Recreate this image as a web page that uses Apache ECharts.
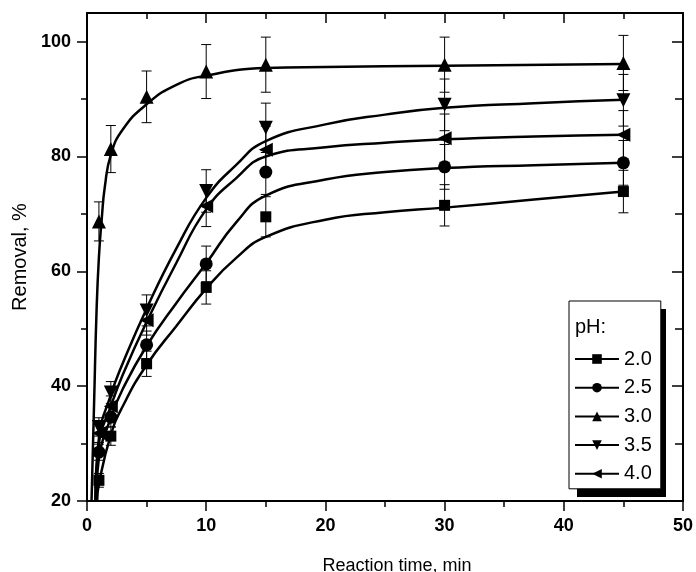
<!DOCTYPE html>
<html>
<head>
<meta charset="utf-8">
<script src="https://cdn.jsdelivr.net/npm/echarts@6/dist/echarts.min.js"></script>
<style>
  html, body { margin: 0; padding: 0; background: #fff; }
  #chart { width: 696px; height: 572px; }
</style>
</head>
<body>
<div id="chart"></div>
<script>
// Sampling times (min)
const times = [1, 2, 5, 10, 15, 30, 45];
const phLabels = ['2.0', '2.5', '3.0', '3.5', '4.0'];

// Measured removal (%) at each pH
const removalPH20 = [23.6, 31.3, 43.9, 57.2, 69.5, 71.5, 73.9];
const removalPH25 = [28.5, 34.6, 47.2, 61.3, 77.3, 78.2, 78.9];
const removalPH30 = [68.7, 81.3, 90.4, 94.8, 96.0, 96.0, 96.3];
const removalPH35 = [32.9, 38.9, 53.2, 74.0, 85.0, 89.0, 89.8];
const removalPH40 = [31.8, 36.5, 51.5, 71.4, 81.2, 83.2, 83.8];

// Error bar half-widths (%)
const errPH20 = [1.2, 1.6, 2.2, 2.9, 3.5, 3.6, 3.7];
const errPH25 = [1.4, 1.7, 2.4, 3.1, 3.9, 3.9, 3.9];
const errPH30 = [3.4, 4.1, 4.5, 4.7, 4.8, 4.8, 4.8];
const errPH35 = [1.6, 1.9, 2.7, 3.7, 4.3, 4.5, 4.5];
const errPH40 = [1.6, 1.8, 2.6, 3.6, 4.1, 4.2, 4.2];

// Kinetic fit curves: time (min) and removal (%)
const fitTimePH20 = [0.85, 1, 2, 3, 5, 7.5, 10, 12.5, 15, 20, 25, 30, 37.5, 45];
const fitPH20     = [20, 23, 31.5, 36.5, 43.7, 50.5, 57.0, 62.3, 66.0, 69.0, 70.3, 71.1, 72.5, 73.9];
const fitTimePH25 = [0.75, 1, 2, 3, 5, 7.5, 10, 12.5, 15, 20, 25, 30, 37.5, 45];
const fitPH25     = [20, 27.5, 34.5, 39.5, 47.0, 54.5, 61.4, 68.5, 73.2, 76.0, 77.3, 78.0, 78.5, 78.9];
const fitTimePH30 = [0.38, 0.6, 0.8, 1, 1.25, 1.5, 2, 3, 5, 7.5, 10, 15, 20, 30, 45];
const fitPH30     = [20, 37.5, 53, 62.5, 69.5, 74.8, 80.3, 84.7, 89.1, 92.5, 94.1, 95.4, 95.6, 95.8, 96.1];
const fitTimePH35 = [0.7, 1, 2, 3, 5, 7.5, 10, 12.5, 15, 20, 25, 30, 37.5, 45];
const fitPH35     = [20, 31, 38.5, 44, 53.5, 64, 72.8, 78.5, 82.7, 85.6, 87.3, 88.5, 89.3, 89.9];
const fitTimePH40 = [0.72, 1, 2, 3, 5, 7.5, 10, 12.5, 15, 20, 25, 30, 37.5, 45];
const fitPH40     = [20, 30, 36.5, 42, 51.2, 61.5, 70.8, 76.2, 80.0, 81.6, 82.4, 83.0, 83.5, 83.8];

// Axis ticks
const yMajorTicks = [20, 40, 60, 80, 100];
const yMinorTicks = [30, 50, 70, 90];

const removals = [removalPH20, removalPH25, removalPH30, removalPH35, removalPH40];
const errors = [errPH20, errPH25, errPH30, errPH35, errPH40];
const fitTimes = [fitTimePH20, fitTimePH25, fitTimePH30, fitTimePH35, fitTimePH40];
const fits = [fitPH20, fitPH25, fitPH30, fitPH35, fitPH40];

const symbols = ['rect', 'circle', 'triangle', 'triangle', 'triangle'];
const symbolSizes = [11, 13, 14, 14, 14];
const symbolRotations = [0, 0, 0, 180, 90];

const FONT = '"Liberation Sans", Arial, sans-serif';
const BLACK = '#000';

function renderErrorBar(params, api) {
  const x = api.value(0);
  const pLo = api.coord([x, api.value(1)]);
  const pHi = api.coord([x, api.value(2)]);
  const hw = 5;
  const style = { stroke: BLACK, lineWidth: 1 };
  return {
    type: 'group',
    children: [
      { type: 'line', shape: { x1: pLo[0], y1: pLo[1], x2: pHi[0], y2: pHi[1] }, style },
      { type: 'line', shape: { x1: pLo[0] - hw, y1: pLo[1], x2: pLo[0] + hw, y2: pLo[1] }, style },
      { type: 'line', shape: { x1: pHi[0] - hw, y1: pHi[1], x2: pHi[0] + hw, y2: pHi[1] }, style }
    ]
  };
}

const series = [];
phLabels.forEach((label, i) => {
  series.push({
    name: label,
    type: 'line',
    data: fitTimes[i].map((t, k) => [t, fits[i][k]]),
    smooth: 0.5,
    showSymbol: false,
    symbol: symbols[i],
    symbolSize: symbolSizes[i] - 1,
    symbolRotate: symbolRotations[i],
    lineStyle: { color: BLACK, width: 2.5 },
    itemStyle: { color: BLACK },
    silent: true,
    z: 2
  });
  series.push({
    type: 'custom',
    renderItem: renderErrorBar,
    data: times.map((t, k) => [t, removals[i][k] - errors[i][k], removals[i][k] + errors[i][k]]),
    encode: { x: 0, y: [1, 2] },
    silent: true,
    z: 3
  });
  series.push({
    type: 'scatter',
    data: times.map((t, k) => [t, removals[i][k]]),
    symbol: symbols[i],
    symbolSize: symbolSizes[i],
    symbolRotate: symbolRotations[i],
    itemStyle: { color: BLACK, opacity: 1 },
    silent: true,
    z: 4
  });
});

const axisLineStyle = { show: true, lineStyle: { color: BLACK, width: 2 } };

const option = {
  animation: false,
  backgroundColor: '#fff',
  grid: { left: 87, right: 13, top: 13, bottom: 71, containLabel: false, outerBoundsMode: 'none' },
  xAxis: [
    {
      type: 'value', min: 0, max: 50, interval: 10, position: 'bottom',
      axisLine: axisLineStyle,
      axisTick: { show: true, inside: false, length: 10, lineStyle: { color: BLACK, width: 1.5 } },
      minorTick: { show: true, splitNumber: 2, length: 6, lineStyle: { color: BLACK, width: 1.5 } },
      axisLabel: { margin: 16, color: BLACK, fontSize: 18, fontWeight: 'bold', fontFamily: FONT },
      splitLine: { show: false },
      name: 'Reaction time, min', nameLocation: 'middle', nameGap: 56,
      nameTextStyle: { color: BLACK, fontSize: 18, fontFamily: FONT, padding: [0, 0, 0, 24] }
    },
    {
      type: 'value', min: 0, max: 50, interval: 10, position: 'top',
      axisLine: axisLineStyle,
      axisTick: { show: true, inside: true, length: 10, lineStyle: { color: BLACK, width: 1.5 } },
      minorTick: { show: true, splitNumber: 2, length: 6, lineStyle: { color: BLACK, width: 1.5 } },
      axisLabel: { show: false },
      splitLine: { show: false }
    }
  ],
  yAxis: [
    {
      type: 'value', min: 20, max: 105, position: 'left',
      axisLine: axisLineStyle,
      axisTick: { show: true, inside: false, length: 10, customValues: yMajorTicks, lineStyle: { color: BLACK, width: 1.5 } },
      axisLabel: { margin: 16, customValues: yMajorTicks, color: BLACK, fontSize: 18, fontWeight: 'bold', fontFamily: FONT },
      splitLine: { show: false },
      name: 'Removal, %', nameLocation: 'middle', nameGap: 49,
      nameTextStyle: { color: BLACK, fontSize: 20, fontFamily: FONT }
    },
    {
      type: 'value', min: 20, max: 105, position: 'left',
      axisLine: { show: false },
      axisTick: { show: true, inside: false, length: 6, customValues: yMinorTicks, lineStyle: { color: BLACK, width: 1.5 } },
      axisLabel: { show: false },
      splitLine: { show: false }
    },
    {
      type: 'value', min: 20, max: 105, position: 'right',
      axisLine: axisLineStyle,
      axisTick: { show: true, inside: true, length: 11, customValues: yMajorTicks, lineStyle: { color: BLACK, width: 1.5 } },
      axisLabel: { show: false },
      splitLine: { show: false }
    },
    {
      type: 'value', min: 20, max: 105, position: 'right',
      axisLine: { show: false },
      axisTick: { show: true, inside: true, length: 8, customValues: yMinorTicks, lineStyle: { color: BLACK, width: 1.5 } },
      axisLabel: { show: false },
      splitLine: { show: false }
    }
  ],
  legend: {
    orient: 'vertical',
    left: 569, top: 301,
    data: phLabels,
    itemWidth: 44, itemHeight: 12, itemGap: 8.7,
    padding: [48, 9, 5, 5],
    backgroundColor: '#fff',
    borderColor: BLACK, borderWidth: 1,
    selectedMode: false,
    textStyle: { color: BLACK, fontSize: 20, fontFamily: FONT },
    z: 5
  },
  graphic: [
    { type: 'rect', shape: { x: 577, y: 309, width: 89, height: 188 }, style: { fill: BLACK }, z: 4, silent: true },
    { type: 'text', left: 575, top: 317, style: { text: 'pH:', fill: BLACK, fontSize: 20, fontFamily: FONT }, z: 100, silent: true }
  ],
  series
};

const chart = echarts.init(document.getElementById('chart'), null, { renderer: 'canvas' });
chart.setOption(option);
</script>
</body>
</html>
